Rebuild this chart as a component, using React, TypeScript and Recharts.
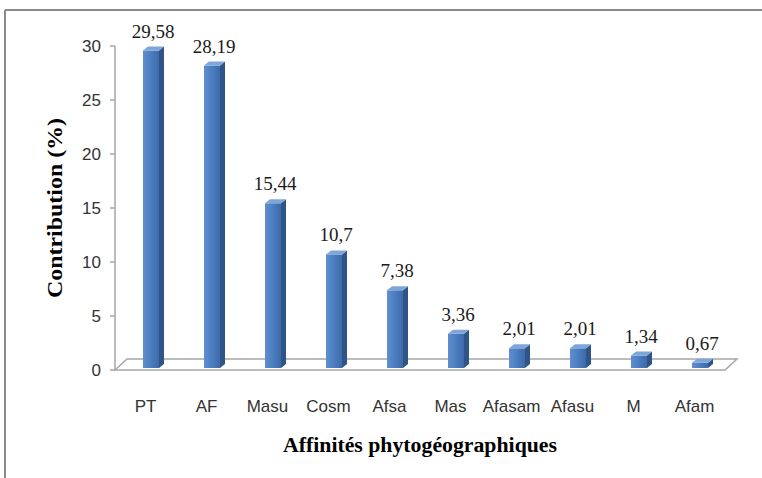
import React from "react"
import { BarChart, Bar, XAxis, YAxis, LabelList } from "recharts"

const categories = ["PT", "AF", "Masu", "Cosm", "Afsa", "Mas", "Afasam", "Afasu", "M", "Afam"]
const contribution = [29.58, 28.19, 15.44, 10.7, 7.38, 3.36, 2.01, 2.01, 1.34, 0.67]
const yTicks = [0, 5, 10, 15, 20, 25, 30]

const W = 762
const H = 478
// plot area (front plane)
const PLOT_LEFT = 115
const PLOT_RIGHT = 725
const PLOT_TOP = 46
const PLOT_BOTTOM = 370
const Y_AXIS_W = 60
const X_AXIS_H = 60
const DEPTH_X = 12
const DEPTH_Y = 11

const SERIF = '"Liberation Serif", "Times New Roman", serif'
const SANS = '"Liberation Sans", Arial, sans-serif'

const data = categories.map((name, i) => ({ name, value: contribution[i] }))

const fmt = (v: number) => String(v).replace(".", ",")

function Column3D(props: any) {
  const { x, y, width, height } = props
  if (height == null || width == null) return null
  const d = 5
  const dy = 4
  const left = x + 5
  const right = left + width
  const top = y
  const bottom = y + height - 2
  return (
    <g>
      <rect x={left} y={top} width={width} height={bottom - top} fill="url(#frontGrad)" />
      <polygon
        points={`${right},${top} ${right + d},${top - dy} ${right + d},${bottom - dy} ${right},${bottom}`}
        fill="#2f5487"
      />
      <polygon
        points={`${left},${top} ${left + d},${top - dy} ${right + d},${top - dy} ${right},${top}`}
        fill="#7fa6d9"
      />
    </g>
  )
}

function ValueLabel(props: any) {
  const { x, y, width, value } = props
  return (
    <text
      x={x + width / 2 + 7}
      y={y - 13}
      textAnchor="middle"
      fontFamily={SERIF}
      fontSize={19}
      fill="#1a1a1a"
    >
      {fmt(value)}
    </text>
  )
}

export default function App() {
  return (
    <div style={{ position: "absolute", left: 0, top: 0, width: W, height: H, background: "#fff" }}>
      <svg width={W} height={H} style={{ position: "absolute", left: 0, top: 0 }}>
        {/* frame */}
        <line x1={5} y1={10} x2={W} y2={10} stroke="#8a8a8a" strokeWidth={2} />
        <line x1={5} y1={10} x2={5} y2={H} stroke="#8a8a8a" strokeWidth={2} />
        {/* 3D floor */}
        <polygon
          points={`${PLOT_LEFT},${PLOT_BOTTOM} ${PLOT_LEFT + DEPTH_X},${PLOT_BOTTOM - DEPTH_Y} ${
            PLOT_RIGHT + DEPTH_X
          },${PLOT_BOTTOM - DEPTH_Y} ${PLOT_RIGHT},${PLOT_BOTTOM}`}
          fill="#fff"
          stroke="#a6a6a6"
          strokeWidth={1.5}
        />
        <text
          x={55}
          y={208}
          transform="rotate(-90 55 208)"
          textAnchor="middle"
          dominantBaseline="central"
          fontFamily={SERIF}
          fontWeight="bold"
          fontSize={21}
          textLength={180}
          lengthAdjust="spacingAndGlyphs"
        >
          Contribution (%)
        </text>
        <text
          x={420}
          y={452}
          textAnchor="middle"
          fontFamily={SERIF}
          fontWeight="bold"
          fontSize={20}
          textLength={274}
          lengthAdjust="spacingAndGlyphs"
        >
          Affinités phytogéographiques
        </text>
      </svg>
      <div style={{ position: "absolute", left: 0, top: 0 }}>
        <BarChart
          width={W}
          height={H}
          data={data}
          margin={{
            top: PLOT_TOP,
            bottom: H - PLOT_BOTTOM - X_AXIS_H,
            left: PLOT_LEFT - Y_AXIS_W,
            right: W - PLOT_RIGHT,
          }}
        >
          <defs>
            <linearGradient id="frontGrad" x1="0" y1="0" x2="1" y2="0">
              <stop offset="0%" stopColor="#5f8fcf" />
              <stop offset="55%" stopColor="#4a7bbd" />
              <stop offset="100%" stopColor="#3e6aa8" />
            </linearGradient>
          </defs>
          <XAxis
            dataKey="name"
            height={X_AXIS_H}
            axisLine={false}
            tickLine={false}
            tickMargin={24}
            interval={0}
            tick={{ fontFamily: SANS, fontSize: 17, fill: "#333" }}
          />
          <YAxis
            width={Y_AXIS_W}
            domain={[0, 30]}
            ticks={yTicks}
            axisLine={{ stroke: "#a6a6a6", strokeWidth: 1.5 }}
            tickLine={{ stroke: "#a6a6a6", strokeWidth: 1.5 }}
            tickSize={5}
            tickMargin={9}
            tick={{ fontFamily: SANS, fontSize: 17, fill: "#333" }}
          />
          <Bar dataKey="value" barSize={16} shape={<Column3D />} isAnimationActive={false}>
            <LabelList dataKey="value" content={<ValueLabel />} />
          </Bar>
        </BarChart>
      </div>
    </div>
  )
}
